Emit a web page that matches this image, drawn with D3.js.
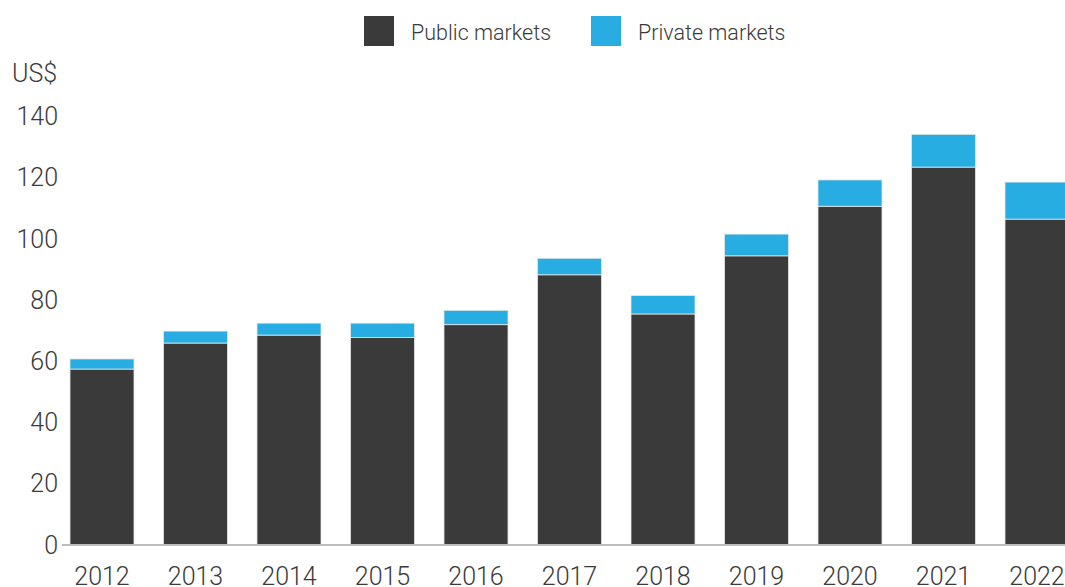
<!DOCTYPE html>
<html>
<head>
<meta charset="utf-8">
<script src="https://cdn.jsdelivr.net/npm/d3@7"></script>
<style>
  html, body { margin: 0; padding: 0; background: #fff; }
  svg { display: block; font-family: Roboto, "Liberation Sans", sans-serif; font-weight: 300; }
</style>
</head>
<body>
<svg id="chart" width="1065" height="587"></svg>
<script>
// Annual totals (US$) split by market type
const years = ["2012","2013","2014","2015","2016","2017","2018","2019","2020","2021","2022"];
const publicMarkets  = [57.5, 66.0, 68.6, 67.8, 72.0, 88.3, 75.5, 94.5, 110.7, 123.5, 106.5];
const privateMarkets = [3.3, 3.9, 3.9, 4.7, 4.7, 5.4, 6.0, 7.1, 8.6, 10.7, 12.1];
const yTicks = [0, 20, 40, 60, 80, 100, 120, 140];
const seriesNames = ["Public markets", "Private markets"];
const seriesColors = ["#3a3a3a", "#27ade2"];

const svg = d3.select("#chart");

const x = d3.scaleBand().domain(years).range([70, 1069]).paddingInner(0.3155).paddingOuter(0);
const y = d3.scaleLinear().domain([0, 140]).range([545, 116.6]);

const rows = years.map((yr, i) => ({ year: yr, "Public markets": publicMarkets[i], "Private markets": privateMarkets[i] }));
const stacked = d3.stack().keys(seriesNames)(rows);

// Stacked bars
svg.append("g").selectAll("g")
  .data(stacked)
  .join("g")
  .attr("fill", (d, i) => seriesColors[i])
  .selectAll("rect")
  .data(d => d)
  .join("rect")
  .attr("x", d => x(d.data.year))
  .attr("y", d => y(d[1]))
  .attr("width", x.bandwidth())
  .attr("height", d => y(d[0]) - y(d[1]))
  .attr("stroke", "#e6e6e6")
  .attr("stroke-width", 0.8);

// Baseline
svg.append("line")
  .attr("x1", 62).attr("x2", 1065)
  .attr("y1", y(0)).attr("y2", y(0))
  .attr("stroke", "#bdbdbd").attr("stroke-width", 2);

const styleAxisText = g => {
  g.attr("font-family", null).attr("font-size", null);
  g.select(".domain").remove();
  g.selectAll("text")
    .attr("font-size", 25)
    .attr("fill", "#3a3a3a");
};

// Y axis labels
const yAxis = d3.axisLeft(y).tickValues(yTicks).tickSize(0).tickPadding(0);
svg.append("g")
  .attr("transform", "translate(58,0)")
  .call(yAxis)
  .call(styleAxisText);

// X axis labels
const xAxis = d3.axisBottom(x).tickSize(0).tickPadding(0);
svg.append("g")
  .attr("transform", "translate(0,567)")
  .call(xAxis)
  .call(styleAxisText);

// Unit label
svg.append("text")
  .attr("x", 12).attr("y", 82)
  .attr("font-size", 25)
  .attr("fill", "#3a3a3a")
  .text("US$");

// Legend
const legendX = [364, 591];
const legend = svg.append("g");
seriesNames.forEach((name, i) => {
  legend.append("rect")
    .attr("x", legendX[i]).attr("y", 16)
    .attr("width", 30).attr("height", 30)
    .attr("fill", seriesColors[i]);
  legend.append("text")
    .attr("x", legendX[i] + 47).attr("y", 40)
    .attr("font-size", 21.5)
    .attr("fill", "#3a3a3a")
    .text(name);
});
</script>
</body>
</html>
